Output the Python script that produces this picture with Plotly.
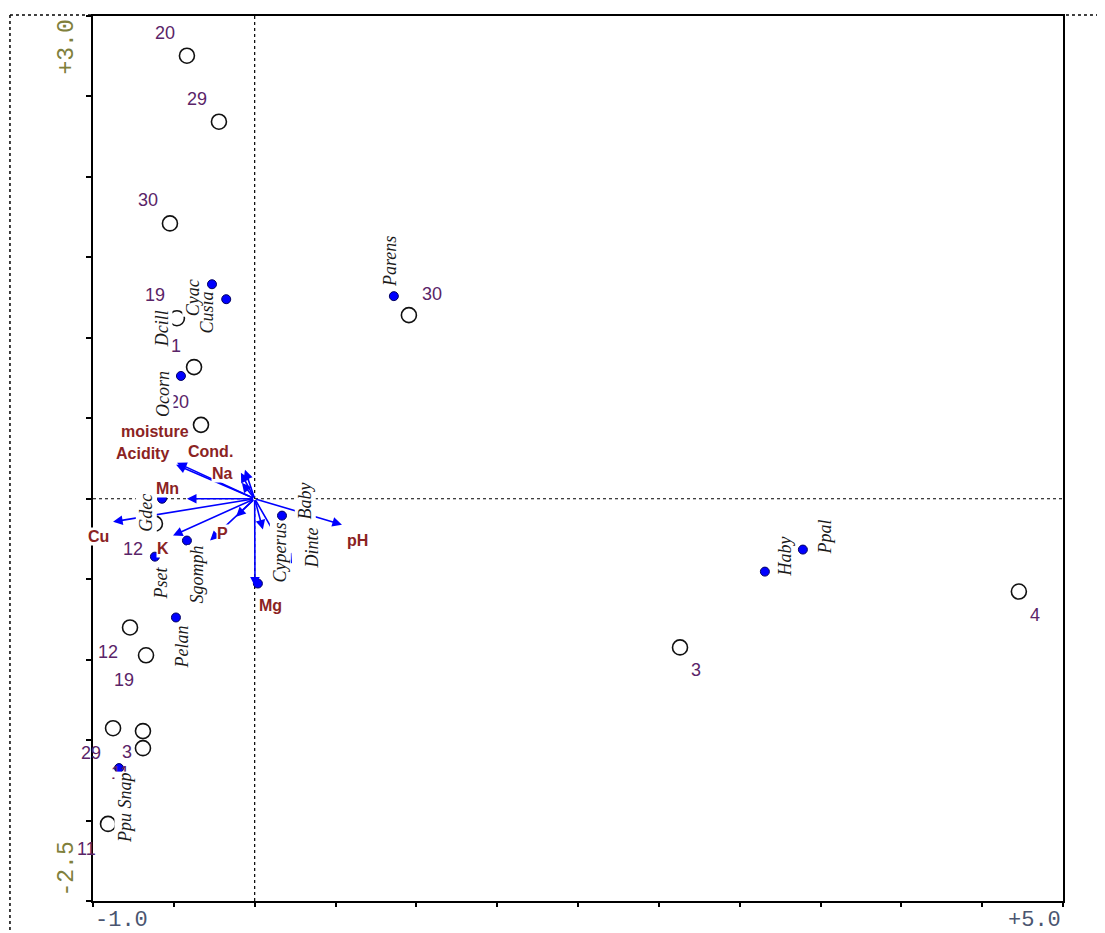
import plotly.graph_objects as go

# ---------------- data ----------------
# sample scores (open circles)
sample_labels = ["20", "29", "30", "30", "19", "1", "20", "12", "12", "19", "29", "3", "11", "11", "3", "4"]
sample_x = [-0.419, -0.221, -0.524, 0.954, -0.481, -0.375, -0.332, -0.617, -0.771, -0.672, -0.876, -0.691, -0.691, -0.907, 2.631, 4.727]
sample_y = [2.753, 2.343, 1.711, 1.141, 1.122, 0.818, 0.459, -0.155, -0.800, -0.973, -1.426, -1.444, -1.550, -2.021, -0.924, -0.577]

# species scores (blue dots)
species_names = ["Parens", "Cusia", "Cyac", "Dcill", "Ocorn", "Gdec", "Sgomph", "Pset", "Pelan",
                 "Cyperus", "Baby", "Dinte", "", "Haby", "Ppal", "Ppu Snap"]
species_x = [0.861, -0.176, -0.264, -0.573, -0.456, -0.573, -0.419, -0.617, -0.487,
             0.169, 0.311, 0.354, 0.020, 3.156, 3.391, -0.839]
species_y = [1.259, 1.240, 1.333, 1.054, 0.763, 0.000, -0.260, -0.360, -0.738,
             -0.105, -0.012, -0.304, -0.527, -0.453, -0.316, -1.674]

# environmental variables (arrows from origin)
env_names = ["moisture", "Acidity", "Cond.", "Na", "Mn", "Cu", "K", "P", "pH", "Mg", "", "", "", ""]
env_x = [-0.480, -0.486, -0.060, -0.085, -0.419, -0.876, -0.505, -0.276, 0.540, 0.002, -0.079, -0.115, 0.051, 0.231]
env_y = [0.223, 0.211, 0.180, 0.161, 0.000, -0.143, -0.229, -0.260, -0.161, -0.546, 0.099, -0.112, -0.192, -0.403]

x_tick_text = ["-1.0", "+5.0"]
y_tick_text = ["+3.0", "-2.5"]
X_RANGE = [-1.0, 5.0]
Y_RANGE = [-2.5, 3.0]

# ---------------- label placement (pixels) ----------------
SAMPLE_POS = ["ul", "ul", "ul", "ur", "ul", "ul2", "ul", "ll", "ll", "ll", "ll", "ll2", "ll", "ll", "lr", "lr"]
SAMPLE_OFF = {"ul": (-22, 23), "ul2": (-18, 21), "ur": (23, 21), "ll": (-22, -25), "ll2": (-16, -21), "lr": (16, -23)}
SPECIES_OFF = [(-4, 35), (-19, -13), (-19, -13), (0, 0), (-18, -18), (-16, -14), (10, -34), (6, -26), (7, -29),
               (-2, -37), (0, 0), (0, 0), (0, 0), (20, 15), (22, 13), (6, -40)]
ENV_OFF = [(-22, 31), (-34, 11), (-34, 18), (-18, -1), (-19, 10), (-15, -15), (-10, -13), (12, 7), (16, -16), (16, -19),
           (0, 0), (0, 0), (0, 0), (0, 0)]

BLUE = "#0000ff"
ENV_COLOR = "#8b2323"
SAMPLE_COLOR = "#5a2468"

fig = go.Figure()

fig.add_trace(go.Scatter(
    x=sample_x, y=sample_y, mode="markers",
    marker=dict(symbol="circle", size=15, color="white", line=dict(color="#111", width=1.6)),
    hoverinfo="skip", showlegend=False))

fig.add_trace(go.Scatter(
    x=species_x, y=species_y, mode="markers",
    marker=dict(symbol="circle", size=9, color=BLUE, line=dict(color="#000060", width=1)),
    hoverinfo="skip", showlegend=False))

annotations = []
# arrows
for ex, ey in zip(env_x, env_y):
    annotations.append(dict(x=ex, y=ey, ax=0, ay=0, xref="x", yref="y", axref="x", ayref="y",
                            text="", showarrow=True, arrowhead=2, arrowsize=1.2, arrowwidth=1.6,
                            arrowcolor=BLUE, standoff=0, startstandoff=0))

# sample labels
for lab, sx, sy, pos in zip(sample_labels, sample_x, sample_y, SAMPLE_POS):
    dx, dy = SAMPLE_OFF[pos]
    annotations.append(dict(x=sx, y=sy, xref="x", yref="y", text=lab, showarrow=False,
                            xshift=dx, yshift=dy,
                            font=dict(family="Arial, Liberation Sans", size=18, color=SAMPLE_COLOR)))

# species labels
for name, sx, sy, (dx, dy) in zip(species_names, species_x, species_y, SPECIES_OFF):
    if not name:
        continue
    annotations.append(dict(x=sx, y=sy, xref="x", yref="y", text="<i>%s</i>" % name, showarrow=False,
                            xshift=dx, yshift=dy, textangle=-90, bgcolor="white", borderpad=0,
                            font=dict(family="Liberation Serif, Times New Roman", size=18, color="#1a1a1a")))

# env labels
for name, ex, ey, (dx, dy) in zip(env_names, env_x, env_y, ENV_OFF):
    if not name:
        continue
    annotations.append(dict(x=ex, y=ey, xref="x", yref="y", text="<b>%s</b>" % name, showarrow=False,
                            xshift=dx, yshift=dy, bgcolor="white", borderpad=0,
                            font=dict(family="Arial, Liberation Sans", size=16, color=ENV_COLOR)))

# axis end labels
tick_font_x = dict(family="Liberation Mono, Courier New", size=22, color="#4a5570")
tick_font_y = dict(family="Liberation Mono, Courier New", size=23, color="#80803c")
annotations.append(dict(x=X_RANGE[0], y=0, xref="x", yref="paper", text=x_tick_text[0], showarrow=False,
                        xanchor="left", yanchor="top", yshift=-5, font=tick_font_x))
annotations.append(dict(x=X_RANGE[1], y=0, xref="x", yref="paper", text=x_tick_text[1], showarrow=False,
                        xanchor="right", yanchor="top", yshift=-5, font=tick_font_x))
annotations.append(dict(x=0, y=Y_RANGE[1], xref="paper", yref="y", text=y_tick_text[0], showarrow=False,
                        textangle=-90, xanchor="right", yanchor="top", xshift=-12, yshift=-2, font=tick_font_y))
annotations.append(dict(x=0, y=Y_RANGE[0], xref="paper", yref="y", text=y_tick_text[1], showarrow=False,
                        textangle=-90, xanchor="right", yanchor="bottom", xshift=-12, yshift=2, font=tick_font_y))

shapes = [
    dict(type="line", xref="x", yref="paper", x0=0, x1=0, y0=0, y1=1,
         line=dict(color="black", width=1.2, dash="dot"), layer="below"),
    dict(type="line", xref="paper", yref="y", x0=0, x1=1, y0=0, y1=0,
         line=dict(color="black", width=1.2, dash="dot"), layer="below"),
    # outer dotted frame (top and left)
    dict(type="line", xref="paper", yref="paper", x0=-0.0856, x1=1.06, y0=1.0011, y1=1.0011,
         line=dict(color="black", width=1.5, dash="dot")),
    dict(type="line", xref="paper", yref="paper", x0=-0.0856, x1=-0.0856, y0=1.0011, y1=-0.05,
         line=dict(color="black", width=1.5, dash="dot")),
]

ticks = [round(-2.5 + 0.5 * i, 2) for i in range(12)]
xticks = [round(-1.0 + 0.5 * i, 2) for i in range(13)]

fig.update_layout(
    width=1105, height=933,
    margin=dict(l=85, r=50, t=6, b=40),
    paper_bgcolor="white", plot_bgcolor="white",
    showlegend=False,
    xaxis=dict(range=X_RANGE, showgrid=False, zeroline=False, showline=True, linecolor="black",
               linewidth=2, mirror=True, ticks="outside", ticklen=4, tickwidth=2, tickcolor="black",
               tickvals=xticks, showticklabels=False, fixedrange=True),
    yaxis=dict(range=Y_RANGE, showgrid=False, zeroline=False, showline=True, linecolor="black",
               linewidth=2, mirror=True, ticks="outside", ticklen=5, tickwidth=2, tickcolor="black",
               tickvals=ticks, showticklabels=False, fixedrange=True),
    annotations=annotations,
    shapes=shapes,
)

fig.write_html("out.html")
